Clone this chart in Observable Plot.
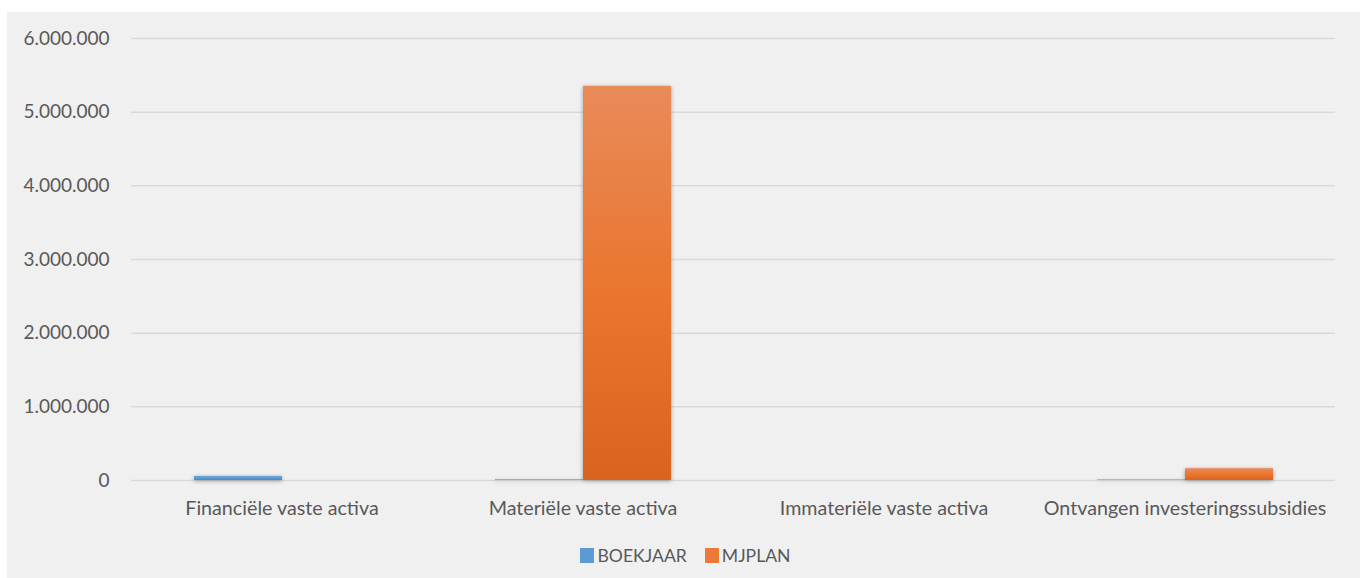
<!DOCTYPE html>
<html>
<head>
<meta charset="utf-8">
<script src="https://cdn.jsdelivr.net/npm/d3@7"></script>
<script src="https://cdn.jsdelivr.net/npm/@observablehq/plot@0.6"></script>
<style>
  html, body { margin: 0; padding: 0; background: #ffffff; }
  #panel {
    position: absolute; left: 7px; top: 12px; width: 1353px; height: 566px;
    background: #f0f0f0; font-family: Lato, "Liberation Sans", sans-serif;
  }
  #panel svg { display: block; background: transparent; }
  #panel svg g[aria-label="bar"] rect { filter: drop-shadow(0px 1px 2px rgba(0,0,0,0.35)); }
  #panel svg g[aria-label^="fx-axis"] { font-size: 19.7px; }
  #legend {
    display: flex; justify-content: center; align-items: center;
    height: 46px; padding-left: 4px; color: #595959; font-size: 17.6px;
  }
  .item { display: flex; align-items: center; margin: 0 9px; }
  .sw { width: 14px; height: 15px; margin-right: 3px; }
</style>
</head>
<body>
<div id="panel"></div>
<script>
const categories = ["Financiële vaste activa", "Materiële vaste activa", "Immateriële vaste activa", "Ontvangen investeringssubsidies"];
const series = ["BOEKJAAR", "MJPLAN"];
const boekjaar = [55000, 10000, 0, 8000];
const mjplan = [0, 5350000, 0, 160000];
const yTicks = [0, 1000000, 2000000, 3000000, 4000000, 5000000, 6000000];
const seriesColors = ["#5b9bd5", "#ea7a35"];

const rows = [];
categories.forEach((c, i) => {
  rows.push({category: c, series: series[0], value: boekjaar[i]});
  rows.push({category: c, series: series[1], value: mjplan[i]});
});

const nl = d3.formatLocale({decimal: ",", thousands: ".", grouping: [3], currency: ["€", ""]});
const fmt = nl.format(",");

const svgNS = "http://www.w3.org/2000/svg";
function gradientDefs() {
  const defs = document.createElementNS(svgNS, "defs");
  defs.innerHTML =
    '<linearGradient id="og" x1="0" y1="0" x2="0" y2="1">' +
    '<stop offset="0%" stop-color="#e98b5a"/>' +
    '<stop offset="50%" stop-color="#ea7630"/>' +
    '<stop offset="100%" stop-color="#d9641f"/>' +
    '</linearGradient>' +
    '<linearGradient id="bg" x1="0" y1="0" x2="0" y2="1">' +
    '<stop offset="0%" stop-color="#6ea7dc"/>' +
    '<stop offset="100%" stop-color="#4a8bc8"/>' +
    '</linearGradient>';
  return defs;
}

const chart = Plot.plot({
  width: 1353,
  height: 520,
  marginLeft: 123,
  marginRight: 25,
  marginTop: 26,
  marginBottom: 52,
  style: {background: "transparent", fontFamily: "Lato, 'Liberation Sans', sans-serif", fontSize: "19px", color: "#595959"},
  fx: {domain: categories, padding: 0, label: null, tickSize: 0, tickPadding: 20, axis: "bottom"},
  x: {domain: series, paddingInner: 0, paddingOuter: 0.71, axis: null},
  y: {domain: [0, 6000000], ticks: yTicks, tickFormat: fmt, tickSize: 0, tickPadding: 22, label: null},
  marks: [
    gradientDefs,
    Plot.gridY(yTicks, {stroke: "#d9d9d9", strokeOpacity: 1, strokeWidth: 1.5}),
    Plot.barY(rows, {filter: d => d.series === "BOEKJAAR", fx: "category", x: "series", y: "value", fill: "url(#bg)"}),
    Plot.barY(rows, {filter: d => d.series === "MJPLAN", fx: "category", x: "series", y: "value", fill: "url(#og)"})
  ]
});

const panel = document.getElementById("panel");
panel.appendChild(chart);

const legend = document.createElement("div");
legend.id = "legend";
series.forEach((s, i) => {
  const item = document.createElement("div");
  item.className = "item";
  const sw = document.createElement("span");
  sw.className = "sw";
  sw.style.background = seriesColors[i];
  const label = document.createElement("span");
  label.textContent = s;
  item.appendChild(sw);
  item.appendChild(label);
  legend.appendChild(item);
});
panel.appendChild(legend);
</script>
</body>
</html>
